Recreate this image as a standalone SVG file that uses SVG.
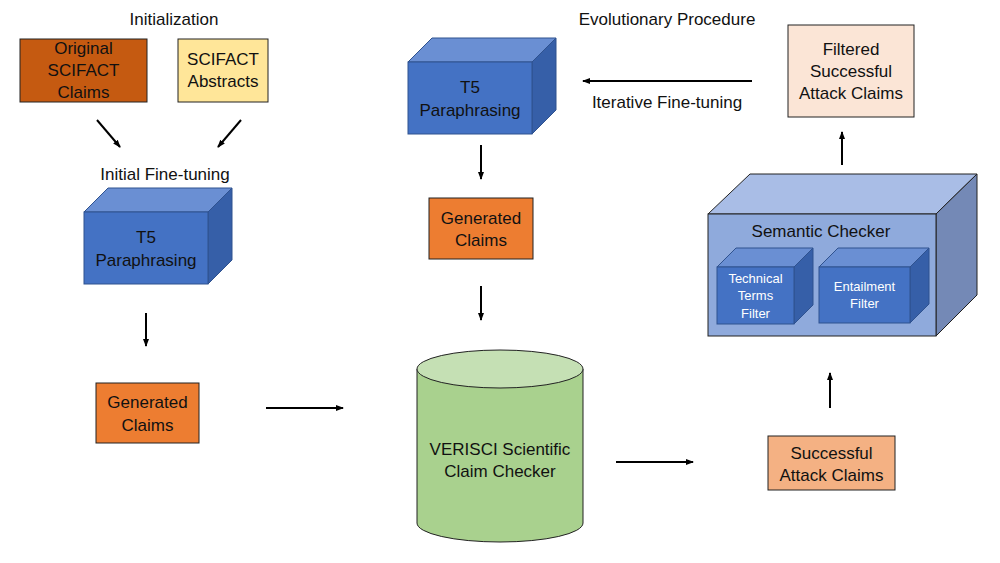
<svg xmlns="http://www.w3.org/2000/svg" width="1000" height="563" viewBox="0 0 1000 563">
<defs>
<marker id="ah" markerWidth="8" markerHeight="8" refX="7" refY="4" orient="auto" markerUnits="userSpaceOnUse">
<path d="M0,1 L8,4 L0,7 Z" fill="#000"/>
</marker>
<style>
text{font-family:"Liberation Sans",Arial,sans-serif;font-size:17px;fill:#111;text-anchor:middle}
.sm{font-size:13px;fill:#fff}
.box{stroke:#222;stroke-width:1}
.cf{fill:#4472C4;stroke:#2F528F;stroke-width:1}
.ct{fill:#6A8FD3;stroke:#2F528F;stroke-width:1}
.cr{fill:#365FA8;stroke:#2F528F;stroke-width:1}
.conn{stroke:#000;stroke-width:2;fill:none;marker-end:url(#ah)}
</style>
</defs>
<rect width="1000" height="563" fill="#fff"/>
<text x="174" y="25">Initialization</text>
<text x="667" y="25">Evolutionary Procedure</text>
<text x="165" y="180">Initial Fine-tuning</text>
<text x="667" y="108">Iterative Fine-tuning</text>

<g id="orig-claims">
<rect class="box" x="20" y="39" width="127" height="63" fill="#C55A11"/>
<text x="83.5" y="54">Original</text>
<text x="83.5" y="76">SCIFACT</text>
<text x="83.5" y="98">Claims</text>
</g>
<g id="abstracts">
<rect class="box" x="178" y="39" width="90" height="63" fill="#FFE699"/>
<text x="223" y="65">SCIFACT</text>
<text x="223" y="87">Abstracts</text>
</g>
<g id="t5-init">
<polygon class="ct" points="84,212 108,188 232,188 208,212"/>
<polygon class="cr" points="208,212 232,188 232,260 208,284"/>
<rect class="cf" x="84" y="212" width="124" height="72"/>
<text x="146" y="243">T5</text>
<text x="146" y="266">Paraphrasing</text>
</g>
<g id="gen-claims-1">
<rect class="box" x="96" y="383" width="103" height="60" fill="#ED7D31"/>
<text x="147.5" y="408">Generated</text>
<text x="147.5" y="431">Claims</text>
</g>
<g id="t5-evo">
<polygon class="ct" points="408,62 432,38 556,38 532,62"/>
<polygon class="cr" points="532,62 556,38 556,110 532,134"/>
<rect class="cf" x="408" y="62" width="124" height="72"/>
<text x="470" y="93">T5</text>
<text x="470" y="116">Paraphrasing</text>
</g>
<g id="gen-claims-2">
<rect class="box" x="429" y="198" width="104" height="61" fill="#ED7D31"/>
<text x="481" y="224">Generated</text>
<text x="481" y="246">Claims</text>
</g>
<g id="verisci">
<path d="M417,369 L417,523 A83,19 0 0 0 583,523 L583,369" fill="#A9D18E" stroke="#222" stroke-width="1"/>
<ellipse cx="500" cy="369" rx="83" ry="19" fill="#C5E0B4" stroke="#222" stroke-width="1"/>
<text x="500" y="455">VERISCI Scientific</text>
<text x="500" y="477">Claim Checker</text>
</g>
<g id="success-claims">
<rect class="box" x="768" y="436" width="127" height="54" fill="#F4B183"/>
<text x="831.5" y="459">Successful</text>
<text x="831.5" y="481">Attack Claims</text>
</g>
<g id="semantic-checker">
<polygon points="708,214 750,174 977,174 936,214" fill="#A9BDE6" stroke="#222" stroke-width="1"/>
<polygon points="936,214 977,174 977,295 936,336" fill="#7489B6" stroke="#222" stroke-width="1"/>
<rect x="708" y="214" width="228" height="122" fill="#8FAADC" stroke="#222" stroke-width="1"/>
<text x="821" y="237">Semantic Checker</text>
<g id="tech-filter">
<polygon class="ct" points="717,267 736,248 813,248 794,267"/>
<polygon class="cr" points="794,267 813,248 813,305 794,324"/>
<rect class="cf" x="717" y="267" width="77" height="57"/>
<text class="sm" x="755.5" y="283">Technical</text>
<text class="sm" x="755.5" y="300">Terms</text>
<text class="sm" x="755.5" y="318">Filter</text>
</g>
<g id="entail-filter">
<polygon class="ct" points="819,267 838,248 929,248 910,267"/>
<polygon class="cr" points="910,267 929,248 929,304 910,323"/>
<rect class="cf" x="819" y="267" width="91" height="56"/>
<text class="sm" x="864.5" y="291">Entailment</text>
<text class="sm" x="864.5" y="308">Filter</text>
</g>
</g>
<g id="filtered-claims">
<rect class="box" x="788" y="25" width="126" height="92" fill="#FBE5D6"/>
<text x="851" y="55">Filtered</text>
<text x="851" y="77">Successful</text>
<text x="851" y="99">Attack Claims</text>
</g>

<g id="connectors">
<line class="conn" x1="97" y1="120" x2="120" y2="147"/>
<line class="conn" x1="241" y1="120" x2="218" y2="147"/>
<line class="conn" x1="146" y1="313" x2="146" y2="346"/>
<line class="conn" x1="266" y1="408" x2="343" y2="408"/>
<line class="conn" x1="481" y1="145" x2="481" y2="179"/>
<line class="conn" x1="481" y1="286" x2="481" y2="320"/>
<line class="conn" x1="752" y1="81" x2="583" y2="81"/>
<line class="conn" x1="616" y1="462" x2="693" y2="462"/>
<line class="conn" x1="830" y1="408" x2="830" y2="373"/>
<line class="conn" x1="842" y1="165" x2="842" y2="132"/>
</g>
</svg>
